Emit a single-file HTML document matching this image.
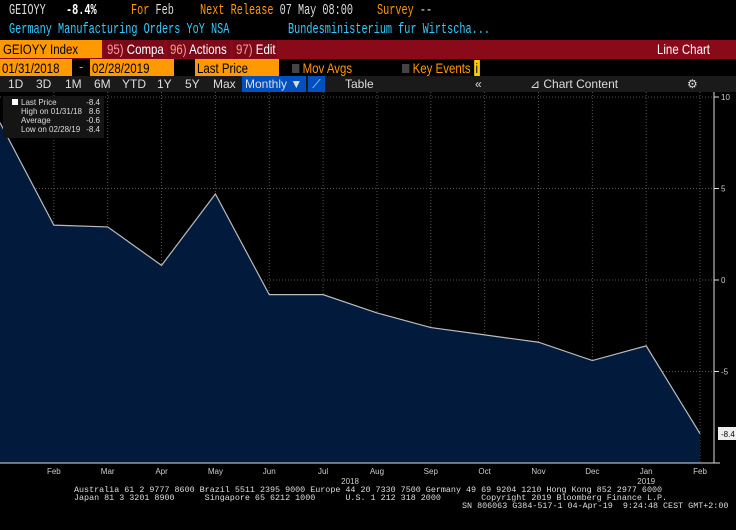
<!DOCTYPE html>
<html><head><meta charset="utf-8"><style>
body{margin:0;background:#000;width:736px;height:530px;overflow:hidden;font-family:"Liberation Sans",sans-serif;position:relative}
.m{font-family:"Liberation Mono",monospace}
.a{position:absolute;white-space:nowrap}
.h{position:absolute;white-space:nowrap;font-family:"Liberation Mono",monospace;font-size:15px;transform:scaleX(0.68);transform-origin:0 0}
.bar{position:absolute;height:18px;font-size:14px;line-height:18px;white-space:nowrap;overflow:hidden;box-sizing:border-box}
.s{display:inline-block;transform:scaleX(0.82);transform-origin:0 0}
</style></head><body>
<div class="h" style="left:9px;top:2px;color:#ddd">GEIOYY</div>
<div class="h" style="left:66px;top:2px;color:#fff;font-weight:bold">-8.4%</div>
<div class="h" style="left:131px;top:2px;color:#f90">For <span style="color:#ddd">Feb</span></div>
<div class="h" style="left:200px;top:2px;color:#f90">Next Release <span style="color:#ddd">07 May 08:00</span></div>
<div class="h" style="left:377px;top:2px;color:#f90">Survey <span style="color:#ddd">--</span></div>
<div class="h" style="left:9px;top:21px;color:#3cf">Germany Manufacturing Orders YoY NSA</div>
<div class="h" style="left:288px;top:21px;color:#3cf">Bundesministerium fur Wirtscha...</div>
<div class="a" style="left:0;top:40px;width:736px;height:19px;background:#8b0a1a"></div>
<div class="bar" style="left:0;top:40px;width:102px;background:#f90;color:#000;padding-left:3px"><span class="s">GEIOYY Index</span></div>
<div class="bar" style="left:104px;top:40px;width:60px;background:#7a0a18;color:#fff;padding-left:3px"><span class="s"><span style="color:#f99">95)</span> Compare</span></div>
<div class="bar" style="left:167px;top:40px;width:63px;background:#7a0a18;color:#fff;padding-left:3px"><span class="s"><span style="color:#f99">96)</span> Actions ▾</span></div>
<div class="bar" style="left:233px;top:40px;width:44px;background:#7a0a18;color:#fff;padding-left:3px"><span class="s"><span style="color:#f99">97)</span> Edit ▾</span></div>
<div class="bar" style="left:657px;top:40px;color:#fff"><span class="s">Line Chart</span></div>
<div class="bar" style="left:0;top:59px;width:72px;background:#f90;color:#000;padding-left:2px"><span class="s">01/31/2018</span></div>
<div class="a" style="left:79px;top:59px;color:#f90;font-size:13px">-</div>
<div class="bar" style="left:90px;top:59px;width:84px;background:#f90;color:#000;padding-left:2px"><span class="s">02/28/2019</span></div>
<div class="bar" style="left:195px;top:59px;width:84px;background:#f90;color:#000;padding-left:2px"><span class="s">Last Price</span></div>
<div class="bar" style="left:292px;top:59px;color:#f90"><span class="s"><span style="display:inline-block;width:9px;height:9px;background:#444"></span> Mov Avgs</span></div>
<div class="bar" style="left:402px;top:59px;color:#f90"><span class="s"><span style="display:inline-block;width:9px;height:9px;background:#444"></span> Key Events <span style="background:#fc0;color:#000;padding:0 2px">i</span></span></div>
<div class="a" style="left:0;top:76px;width:736px;height:16px;background:#1a1a1a"></div>
<div class="a" style="top:76px;left:0;font-size:12px;color:#ddd;line-height:16px">
<span style="position:absolute;left:8px">1D</span>
<span style="position:absolute;left:36px">3D</span>
<span style="position:absolute;left:65px">1M</span>
<span style="position:absolute;left:94px">6M</span>
<span style="position:absolute;left:122px">YTD</span>
<span style="position:absolute;left:157px">1Y</span>
<span style="position:absolute;left:185px">5Y</span>
<span style="position:absolute;left:213px">Max</span>
<span style="position:absolute;left:242px;width:61px;background:#0050c0;padding-left:3px">Monthly ▼</span>
<span style="position:absolute;left:308px;width:17px;background:#0050c0;text-align:center">⟋</span>
<span style="position:absolute;left:345px">Table</span>
<span style="position:absolute;left:475px">«</span>
<span style="position:absolute;left:530px">⊿ Chart Content</span>
<span style="position:absolute;left:687px">⚙</span>
</div>
<svg class="a" style="left:0;top:0" width="736" height="530">
<g id="grid"></g><path id="area" fill="#021b3d"/><path id="line" fill="none" stroke="#bbb" stroke-width="1.2"/>
<line x1="714" y1="92" x2="714" y2="463" stroke="#ddd"/>
<line x1="0" y1="463" x2="720" y2="463" stroke="#ddd"/>
<g id="labels" font-family="Liberation Sans, sans-serif" font-size="8" fill="#ccc"></g>
<rect x="3" y="96" width="101" height="42" fill="#151515"/>
<g font-family="Liberation Sans, sans-serif" font-size="8" fill="#ddd">
<rect x="12" y="99" width="6" height="6" fill="#fff"/>
<text x="21" y="105">Last Price</text><text x="100" y="105" text-anchor="end">-8.4</text>
<text x="21" y="114">High on 01/31/18</text><text x="100" y="114" text-anchor="end">8.6</text>
<text x="21" y="123">Average</text><text x="100" y="123" text-anchor="end">-0.6</text>
<text x="21" y="132">Low on 02/28/19</text><text x="100" y="132" text-anchor="end">-8.4</text>
</g>
<rect x="718" y="427" width="18" height="13" fill="#eee"/>
<text x="721" y="437" font-size="8" font-family="Liberation Sans, sans-serif" fill="#000">-8.4</text>
</svg>
<div class="a m" style="left:74px;top:486px;font-size:8.4px;line-height:8px;color:#ddd">Australia 61 2 9777 8600 Brazil 5511 2395 9000 Europe 44 20 7330 7500 Germany 49 69 9204 1210 Hong Kong 852 2977 6000<br>Japan 81 3 3201 8900 &nbsp; &nbsp; &nbsp;Singapore 65 6212 1000 &nbsp; &nbsp; &nbsp;U.S. 1 212 318 2000 &nbsp; &nbsp; &nbsp; &nbsp;Copyright 2019 Bloomberg Finance L.P.<br><span style="padding-left:388px">SN 806063 G384-517-1 04-Apr-19 &nbsp;9:24:48 CEST GMT+2:00</span></div>
<script>
const months=["Jan","Feb","Mar","Apr","May","Jun","Jul","Aug","Sep","Oct","Nov","Dec","Jan","Feb"];
const values=[8.6,3.0,2.9,0.8,4.7,-0.8,-0.8,-1.8,-2.6,-3.0,-3.4,-4.4,-3.6,-8.4];
const yTicks=[10,5,0,-5];
const yearLabels=[{t:"2018",i:6.5},{t:"2019",i:12}];
const X=i=>i*53.85, Y=v=>280-v*18.3, bottom=463;
const ns="http://www.w3.org/2000/svg";
const grid=document.getElementById('grid'),lab=document.getElementById('labels');
function mk(t,a,p){const e=document.createElementNS(ns,t);for(const k in a)e.setAttribute(k,a[k]);p.appendChild(e);return e;}
yTicks.forEach(v=>{const l=mk('line',{x1:0,x2:714,y1:Y(v),y2:Y(v),stroke:'#555','stroke-dasharray':'1,2'},grid);


const t=mk('text',{x:721,y:Y(v)+3},lab);t.textContent=v;


mk('line',{x1:714,x2:719,y1:Y(v),y2:Y(v),stroke:'#ddd'},lab);});
months.forEach((m,i)=>{if(i==0)return;const l=mk('line',{x1:X(i),x2:X(i),y1:92,y2:bottom,stroke:'#555','stroke-dasharray':'1,2'},grid);


const t=mk('text',{x:X(i),y:474,'text-anchor':'middle'},lab);t.textContent=m;

});
yearLabels.forEach(y=>{const t=mk('text',{x:X(y.i),y:484,'text-anchor':'middle'},lab);t.textContent=y.t;

});
let d=values.map((v,i)=>(i?'L':'M')+X(i)+','+Y(v)).join('');
document.getElementById('line').setAttribute('d',d);
document.getElementById('line');
document.getElementById('line');
document.getElementById('area').setAttribute('d',d+'L'+X(values.length-1)+','+bottom+'L0,'+bottom+'Z');
document.getElementById('area');
document.getElementById('area');
</script>
</body></html>
